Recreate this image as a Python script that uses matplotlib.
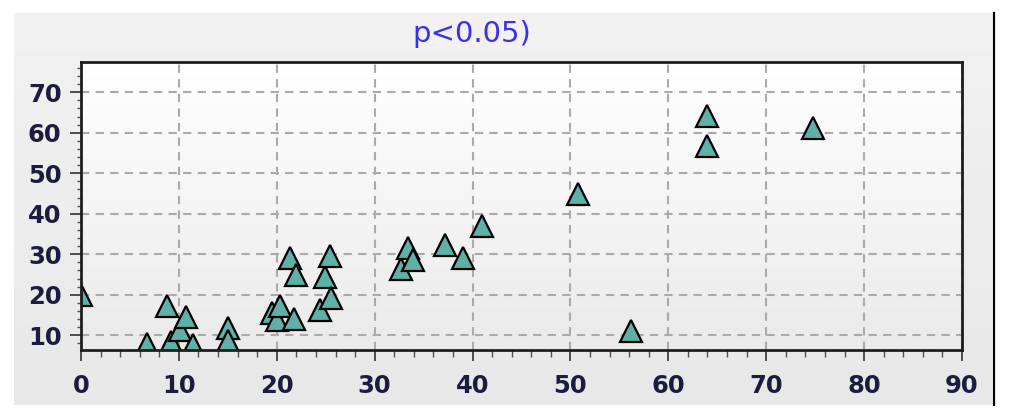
import numpy as np
import matplotlib
matplotlib.use("Agg")
import matplotlib.pyplot as plt
from matplotlib.lines import Line2D
from matplotlib.ticker import MultipleLocator

# ---- data ----
x_vals = [0.0, 6.7, 8.8, 9.2, 10.1, 10.7, 11.4, 15.0, 15.0, 19.5, 20.0, 20.3,
          21.3, 21.8, 22.0, 24.4, 24.9, 25.4, 25.5, 32.7, 33.4, 33.9, 37.2,
          39.0, 41.0, 50.8, 56.2, 64.0, 64.0, 74.8]
y_vals = [19.9, 7.8, 17.2, 8.3, 11.3, 14.5, 7.5, 11.9, 8.6, 15.6, 13.8, 17.3,
          29.2, 14.0, 25.0, 16.2, 24.5, 29.7, 19.2, 26.3, 31.6, 28.7, 32.2,
          29.1, 36.9, 44.9, 11.1, 64.1, 56.7, 61.2]
x_ticks = [0, 10, 20, 30, 40, 50, 60, 70, 80, 90]
y_ticks = [10, 20, 30, 40, 50, 60, 70]
title_text = "p<0.05)"

W, H = 1009, 419
fig = plt.figure(figsize=(W / 100, H / 100), dpi=100, facecolor="white")

# grey panel with slight vertical gradient
pl, pt, pr, pb = 14, 13, 992, 405
bg = fig.add_axes([pl / W, 1 - pb / H, (pr - pl) / W, (pb - pt) / H], zorder=0)
grad = np.linspace(0, 1, 256).reshape(-1, 1)
bg.imshow(grad, aspect="auto", cmap=matplotlib.colors.LinearSegmentedColormap.from_list(
    "g", ["#f2f2f2", "#e8e8e8"]), extent=[0, 1, 1, 0])
bg.set_axis_off()
fig.add_artist(Line2D([993.5 / W, 993.5 / W], [1 - pb / H, 1 - pt / H],
                      color="black", lw=1.6))

# main axes
al, at, ar, ab = 81, 62, 962, 350
ax = fig.add_axes([al / W, 1 - ab / H, (ar - al) / W, (ab - at) / H], zorder=1)

# plot-area gradient background
ax.patch.set_alpha(0)
pgrad = np.linspace(0, 1, 256).reshape(-1, 1)
ax.imshow(pgrad, aspect="auto", cmap=matplotlib.colors.LinearSegmentedColormap.from_list(
    "p", ["#ffffff", "#eaeaea"]), extent=[0, 1, 0, 1], transform=ax.transAxes,
    zorder=0)
ax.set_xlim(0, 90)
ax.set_ylim(6.37, 77.48)

ax.set_xticks(x_ticks)
ax.set_yticks(y_ticks)
ax.xaxis.set_minor_locator(MultipleLocator(2))
ax.yaxis.set_minor_locator(MultipleLocator(2))

tick_color = "#1c1c3e"
ax.tick_params(axis="both", which="major", direction="out", length=8, width=1.3,
               color="#404040", labelsize=17.5, labelcolor=tick_color)
ax.tick_params(axis="x", which="major", pad=9)
ax.tick_params(axis="y", which="major", pad=6)
ax.tick_params(axis="x", which="minor", direction="out", length=5, width=1.0,
               color="#505050")
ax.tick_params(axis="y", which="minor", direction="out", length=3, width=1.0,
               color="#505050")
for lab in ax.get_xticklabels() + ax.get_yticklabels():
    lab.set_fontweight("bold")

ax.grid(True, which="major", color="#aaaaaa", linestyle=(0, (4, 3)), lw=1.5,
        zorder=1)
ax.set_axisbelow(True)

for sp in ax.spines.values():
    sp.set_linewidth(2.0)
    sp.set_color("#1e1e1e")
    sp.set_zorder(5)

ax.plot(x_vals, y_vals, linestyle="none", marker="^", markersize=16,
        markerfacecolor="#5db1a6", markeredgecolor="black", markeredgewidth=1.6,
        zorder=3, clip_on=True)

fig.text(472 / W, 1 - 34 / H, title_text, ha="center", va="center",
         color="#3a2ff0", fontsize=21)

fig.savefig("out.png", dpi=100, facecolor="white")
